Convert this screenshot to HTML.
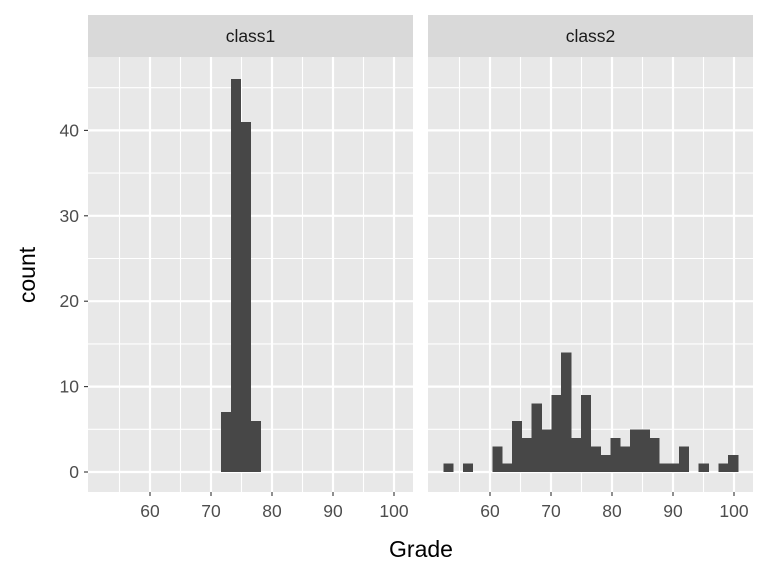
<!DOCTYPE html>
<html><head><meta charset="utf-8"><style>
body{margin:0;background:#fff;font-family:"Liberation Sans",sans-serif}
</style></head><body>
<svg id="c" width="768" height="576" xmlns="http://www.w3.org/2000/svg"></svg>
<script>
const panels=["class1","class2"];
const binStart=52.35, binWidth=1.61;
const class1Counts=[0,0,0,0,0,0,0,0,0,0,0,0,7,46,41,6,0,0,0,0,0,0,0,0,0,0,0,0,0,0];
const class2Counts=[1,0,1,0,0,3,1,6,4,8,5,9,14,4,9,3,2,4,3,5,5,4,1,1,3,0,1,0,1,2];
const xTicks=[60,70,80,90,100];
const yTicks=[0,10,20,30,40];
const NS="http://www.w3.org/2000/svg";
const svg=document.getElementById('c');
function mk(t,a,p){const e=document.createElementNS(NS,t);for(const k in a)e.setAttribute(k,a[k]);(p||svg).appendChild(e);return e;}
const topY=57,bot=492,px0=[88,428],pw=325;
function xs(v,i){return px0[i]+62+(v-60)*6.1;}
function ys(v){return 472-v*8.54;}
const counts=[class1Counts,class2Counts];
panels.forEach((name,i)=>{
  const g=mk('g',{});
  
  
  const bg=mk('rect',{x:px0[i],y:topY,width:pw,height:bot-topY,fill:'#e8e8e8'},g);
  
  
  for(let v=55;v<=105;v+=10){const x=xs(v,i);if(x>px0[i]&&x<px0[i]+pw)mk('line',{x1:x,x2:x,y1:topY,y2:bot,stroke:'#fff','stroke-width':1.1},g);}
  for(let v=5;v<=45;v+=10)mk('line',{x1:px0[i],x2:px0[i]+pw,y1:ys(v),y2:ys(v),stroke:'#fff','stroke-width':1.1},g);
  xTicks.forEach(v=>mk('line',{x1:xs(v,i),x2:xs(v,i),y1:topY,y2:bot,stroke:'#fff','stroke-width':2.2},g));
  yTicks.forEach(v=>mk('line',{x1:px0[i],x2:px0[i]+pw,y1:ys(v),y2:ys(v),stroke:'#fff','stroke-width':2.2},g));
  counts[i].forEach((c,k)=>{
    if(c<=0)return;
    const x1=xs(binStart+k*binWidth,i),x2=xs(binStart+(k+1)*binWidth,i);
    const r=mk('rect',{x:x1,y:ys(c),width:x2-x1+0.3,height:ys(0)-ys(c),fill:'#474747','shape-rendering':'crispEdges'},g);
    
    
  });
  const s=mk('rect',{x:px0[i],y:15,width:pw,height:42,fill:'#d9d9d9'},g);
  
  
  const st=mk('text',{x:px0[i]+pw/2,y:42,'text-anchor':'middle','font-size':17.5,fill:'#1a1a1a'},g);
  st.textContent=name;
  
  
  xTicks.forEach(v=>{
    mk('line',{x1:xs(v,i),x2:xs(v,i),y1:bot,y2:bot+4,stroke:'#333','stroke-width':1.1},g);
    const t=mk('text',{x:xs(v,i),y:bot+25,'text-anchor':'middle','font-size':17.5,fill:'#4d4d4d'},g);
    t.textContent=v;
    
    
  });
});
yTicks.forEach(v=>{
  mk('line',{x1:84,x2:88,y1:ys(v),y2:ys(v),stroke:'#333','stroke-width':1.1});
  const t=mk('text',{x:79,y:ys(v)+6,'text-anchor':'end','font-size':17.5,fill:'#4d4d4d'});
  t.textContent=v;
  
  
});
const xt=mk('text',{x:421,y:557,'text-anchor':'middle','font-size':23,fill:'#000'});
xt.textContent='Grade';


const yt=mk('text',{x:0,y:0,'text-anchor':'middle','font-size':23,fill:'#000',transform:'translate(35,275) rotate(-90)'});
yt.textContent='count';


</script>
</body></html>
